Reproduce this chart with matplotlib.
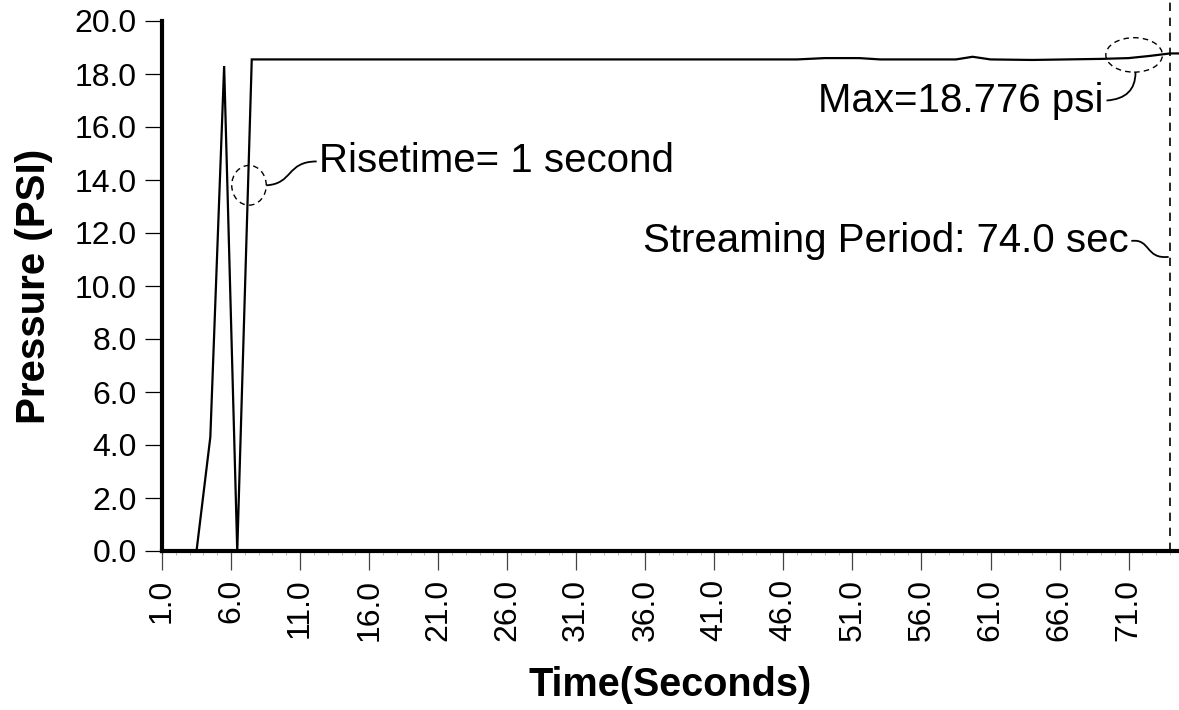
import numpy as np
import matplotlib
matplotlib.use("Agg")
import matplotlib.pyplot as plt
from matplotlib.patches import Ellipse, PathPatch
from matplotlib.path import Path

plt.rcParams['font.family'] = ['Liberation Sans', 'DejaVu Sans']

# Pressure trace (seconds, psi)
time_s = [3.5, 4.5, 5.5, 6.45, 7.5, 30.0, 47.0, 49.0, 51.5, 53.0, 58.5, 59.7,
          61.0, 64.0, 69.0, 71.0, 72.5, 74.0, 74.7]
pressure_psi = [0.0, 4.3, 18.3, 0.0, 18.55, 18.55, 18.55, 18.6, 18.6, 18.55,
                18.55, 18.65, 18.55, 18.53, 18.57, 18.6, 18.68, 18.776, 18.776]

x_ticks = np.arange(1.0, 72.0, 5.0)
y_ticks = np.arange(0.0, 20.1, 2.0)
streaming_period = 74.0
max_pressure = 18.776
risetime = 1

fig = plt.figure(figsize=(11.79, 7.10), dpi=100)
ax = fig.add_axes([162 / 1179, 1 - 551 / 710, (1179 - 162) / 1179, (551 - 21) / 710])

ax.plot(time_s, pressure_psi, color='black', lw=1.6, solid_joinstyle='miter', zorder=3)

ax.set_xlim(1.0, 74.65)
ax.set_ylim(0.0, 20.0)

for side in ('top', 'right'):
    ax.spines[side].set_visible(False)
for side in ('left', 'bottom'):
    ax.spines[side].set_linewidth(3.0)

ax.set_xticks(x_ticks)
ax.set_xticklabels([f"{v:.1f}" for v in x_ticks], rotation=90)
ax.set_xticks(np.arange(1.0, 75.0, 1.0), minor=True)
ax.set_yticks(y_ticks)
ax.set_yticklabels([f"{v:.1f}" for v in y_ticks])

ax.tick_params(axis='x', which='major', length=14, width=0.9, color='#444444',
               labelsize=23, pad=6)
ax.tick_params(axis='x', which='minor', length=3, width=0.5, color='#999999')
ax.tick_params(axis='y', which='major', length=12, width=0.9, labelsize=23, pad=6)

ax.set_xlabel('Time(Seconds)', fontsize=28.5, fontweight='bold', labelpad=18)
ax.set_ylabel('Pressure (PSI)', fontsize=29, fontweight='bold', labelpad=16)

# Streaming period marker
ax.plot([streaming_period, streaming_period], [0.0, 20.8], color='black', lw=1.2,
        ls=(0, (5, 4)), clip_on=False, zorder=2)


def curve(p0, p1, p2, p3):
    path = Path([p0, p1, p2, p3], [Path.MOVETO, Path.CURVE4, Path.CURVE4, Path.CURVE4])
    ax.add_patch(PathPatch(path, fc='none', ec='black', lw=1.3, clip_on=False))


# Risetime callout
ax.add_patch(Ellipse((7.3, 13.8), 2.5, 1.5, fill=False, ec='black', lw=1.0,
                     ls=(0, (4, 3)), clip_on=False))
curve((8.55, 13.8), (10.5, 13.85), (10.0, 14.7), (12.2, 14.7))
ax.text(12.4, 14.7, f'Risetime= {risetime} second', fontsize=29, va='center', ha='left')

# Max pressure callout
ax.add_patch(Ellipse((71.4, 18.72), 4.1, 1.3, fill=False, ec='black', lw=1.0,
                     ls=(0, (4, 3)), clip_on=False))
curve((71.5, 18.07), (71.5, 17.4), (70.8, 17.05), (69.4, 17.0))
ax.text(69.2, 17.0, f'Max={max_pressure} psi', fontsize=29, va='center', ha='right')

# Streaming period callout
curve((71.2, 11.7), (72.6, 11.8), (72.2, 11.0), (73.9, 11.1))
ax.text(71.0, 11.7, f'Streaming Period: {streaming_period:.1f} sec', fontsize=29,
        va='center', ha='right')

fig.savefig('out.png', dpi=100, facecolor='white')
